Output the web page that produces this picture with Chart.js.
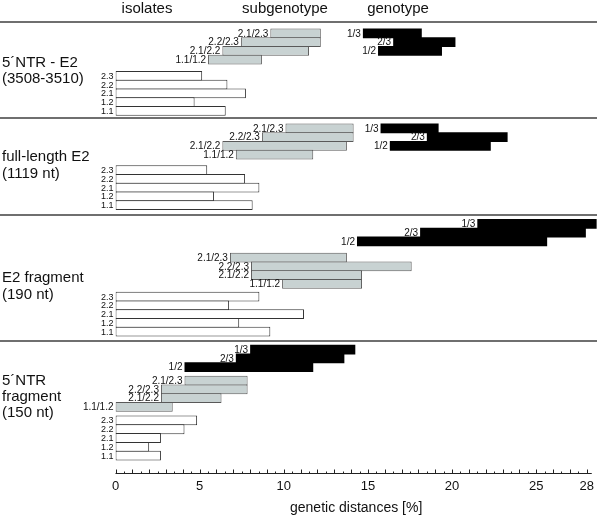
<!DOCTYPE html>
<html>
<head>
<meta charset="utf-8">
<script src="https://cdn.jsdelivr.net/npm/chart.js@4.4.1/dist/chart.umd.min.js"></script>
<style>
  html, body { margin: 0; padding: 0; background: #fff; }
</style>
</head>
<body>
<canvas id="chart" width="600" height="517"></canvas>
<script>
// row labels, same for every panel
const genotypeLabels = ['1/3', '2/3', '1/2'];
const subgenotypeLabels = ['2.1/2.3', '2.2/2.3', '2.1/2.2', '1.1/1.2'];
const isolateLabels = ['2.3', '2.2', '2.1', '1.2', '1.1'];
const headerLabels = ['isolates', 'subgenotype', 'genotype'];
const tickValues = [0, 5, 10, 15, 20, 25, 28];

// 5'NTR - E2 (3508-3510)
const ntrE2Genotype = [[14.7, 18.2], [16.5, 20.2], [15.6, 19.4]];
const ntrE2Subgenotype = [[9.2, 12.2], [7.45, 12.2], [6.35, 11.5], [5.5, 8.7]];
const ntrE2Isolates = [5.15, 6.65, 7.75, 4.7, 6.55];

// full-length E2 (1119 nt)
const fullE2Genotype = [[15.75, 19.2], [18.5, 23.3], [16.3, 22.3]];
const fullE2Subgenotype = [[10.1, 14.15], [8.7, 14.15], [6.35, 13.75], [7.15, 11.75]];
const fullE2Isolates = [5.45, 7.7, 8.55, 5.85, 8.15];

// E2 fragment (190 nt)
const e2FragGenotype = [[21.5, 28.6], [18.1, 27.95], [14.35, 25.65]];
const e2FragSubgenotype = [[6.8, 13.75], [8.05, 17.6], [8.05, 14.65], [9.9, 14.65]];
const e2FragIsolates = [8.55, 6.75, 11.2, 7.35, 9.2];

// 5'NTR fragment (150 nt)
const ntrFragGenotype = [[8.0, 14.25], [7.15, 13.6], [4.1, 11.75]];
const ntrFragSubgenotype = [[4.1, 7.85], [2.7, 7.85], [2.7, 6.3], [0, 3.4]];
const ntrFragIsolates = [4.85, 4.1, 2.7, 2.0, 2.7];

// panel layout: 'side' puts genotype next to subgenotype rows, gaps are in row units
const panels = [
  { title: ['5´NTR - E2', '(3508-3510)'], titleY: [63, 79], genotype: ntrE2Genotype, subgenotype: ntrE2Subgenotype, isolates: ntrE2Isolates, side: true, gaps: [0.8, 0.85, 0.35] },
  { title: ['full-length E2', '(1119 nt)'], titleY: [157, 174], genotype: fullE2Genotype, subgenotype: fullE2Subgenotype, isolates: fullE2Isolates, side: true, gaps: [0.65, 0.75, 0.6] },
  { title: ['E2 fragment', '(190 nt)'], titleY: [278, 295], genotype: e2FragGenotype, subgenotype: e2FragSubgenotype, isolates: e2FragIsolates, side: false, gaps: [0.55, 0.85, 0.45, 0.55] },
  { title: ['5´NTR', 'fragment', '(150 nt)'], titleY: [381, 397, 413], genotype: ntrFragGenotype, subgenotype: ntrFragSubgenotype, isolates: ntrFragIsolates, side: false, gaps: [0.5, 0.55, 0.55, 1.45] }
];

const blackRows = [];
const grayRows = [];
const whiteRows = [];
const separators = [];
let pos = 0;

panels.forEach((p, i) => {
  if (i > 0) separators.push(pos);
  const g = p.gaps;
  pos += g[0];
  if (p.side) {
    p.subgenotype.forEach((r, j) => grayRows.push({ x: r, y: pos + j + 0.5, label: subgenotypeLabels[j] }));
    p.genotype.forEach((r, j) => blackRows.push({ x: r, y: pos + j + 0.5, label: genotypeLabels[j] }));
    pos += subgenotypeLabels.length + g[1];
  } else {
    p.genotype.forEach((r, j) => blackRows.push({ x: r, y: pos + j + 0.5, label: genotypeLabels[j] }));
    pos += genotypeLabels.length + g[1];
    p.subgenotype.forEach((r, j) => grayRows.push({ x: r, y: pos + j + 0.5, label: subgenotypeLabels[j] }));
    pos += subgenotypeLabels.length + g[2];
  }
  p.isolates.forEach((v, j) => whiteRows.push({ x: [0, v], y: pos + j + 0.5, label: isolateLabels[j] }));
  pos += isolateLabels.length + g[g.length - 1];
});
const totalRows = pos;

const FONT = 'Arial, "Liberation Sans", Helvetica, sans-serif';

const decorations = {
  id: 'decorations',
  afterDatasetsDraw(chart) {
    const ctx = chart.ctx;
    const xs = chart.scales.x;
    const ys = chart.scales.y;
    ctx.save();

    // header + panel separators
    ctx.strokeStyle = '#6f6f6f';
    ctx.lineWidth = 2;
    [0, ...separators].forEach(v => {
      const y = Math.round(ys.getPixelForValue(v));
      ctx.beginPath();
      ctx.moveTo(0, y);
      ctx.lineTo(597, y);
      ctx.stroke();
    });

    // column headers
    ctx.fillStyle = '#111';
    ctx.font = '15px ' + FONT;
    ctx.textAlign = 'center';
    ctx.textBaseline = 'middle';
    [147, 285, 398].forEach((x, i) => ctx.fillText(headerLabels[i], x, 9));

    // panel titles
    ctx.textAlign = 'left';
    panels.forEach(p => p.title.forEach((t, i) => ctx.fillText(t, 2, p.titleY[i])));

    // bar labels
    ctx.textAlign = 'right';
    chart.data.datasets.forEach((ds, di) => {
      ctx.font = (di === 0 ? '9px ' : '10px ') + FONT;
      ds.data.forEach(d => {
        const x = xs.getPixelForValue(d.x[0]) - 2;
        const y = ys.getPixelForValue(d.y) + 0.5;
        ctx.fillText(d.label, x, y);
      });
    });

    // axis line with ticks pointing up
    const base = Math.round(chart.chartArea.bottom) + 0.5;
    ctx.strokeStyle = '#222';
    ctx.lineWidth = 1;
    ctx.beginPath();
    ctx.moveTo(xs.getPixelForValue(0), base);
    ctx.lineTo(xs.getPixelForValue(28.3), base);
    for (let v = 0; v <= 28; v += 0.5) {
      const x = Math.round(xs.getPixelForValue(v)) + 0.5;
      ctx.moveTo(x, base);
      ctx.lineTo(x, base - (v % 1 === 0 ? 4 : 2));
    }
    ctx.stroke();
    ctx.restore();
  }
};

const barShared = {
  grouped: false,
  categoryPercentage: 1,
  barPercentage: 1.115,
  borderSkipped: false
};

new Chart(document.getElementById('chart'), {
  type: 'bar',
  data: {
    datasets: [
      { label: 'isolates', data: whiteRows, backgroundColor: '#ffffff', borderColor: '#333333', borderWidth: 1, ...barShared },
      { label: 'subgenotype', data: grayRows, backgroundColor: '#c8d2d2', borderColor: '#595959', borderWidth: 1, ...barShared },
      { label: 'genotype', data: blackRows, backgroundColor: '#000000', borderWidth: 0, ...barShared }
    ]
  },
  options: {
    indexAxis: 'y',
    responsive: false,
    animation: false,
    devicePixelRatio: 1,
    layout: { padding: { left: 115.5, right: 3, top: 22, bottom: 0 } },
    plugins: { legend: { display: false }, tooltip: { enabled: false } },
    scales: {
      y: {
        type: 'linear',
        reverse: true,
        min: 0,
        max: totalRows,
        display: false,
        afterBuildTicks: s => { s.ticks = []; }
      },
      x: {
        type: 'linear',
        min: 0,
        max: 28.6,
        grid: { display: false, drawTicks: false },
        border: { display: false },
        afterBuildTicks: s => { s.ticks = tickValues.map(v => ({ value: v })); },
        ticks: { color: '#111', font: { size: 13, family: FONT }, padding: 6, autoSkip: false, maxRotation: 0 },
        title: { display: true, text: 'genetic distances [%]', color: '#111', font: { size: 14, family: FONT }, padding: { top: 0, bottom: 0 } }
      }
    }
  },
  plugins: [decorations]
});
</script>
</body>
</html>
